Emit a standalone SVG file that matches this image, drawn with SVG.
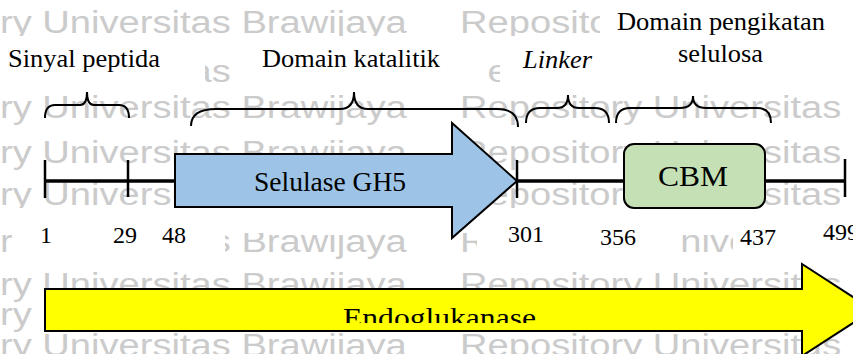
<svg xmlns="http://www.w3.org/2000/svg" width="853" height="354" viewBox="0 0 853 354">
<style>
.wm{font-family:"Liberation Sans",Arial,sans-serif;font-size:31px;fill:#cbcbcb}
.t{font-family:"Liberation Serif","Times New Roman",serif;fill:#000}
.lbl{font-size:25px}
.num{font-size:24px}
.mask{fill:#fff}
.axis{stroke:#000;stroke-width:3.5;fill:none}
.tick{stroke:#000;stroke-width:2.5}
.brace{stroke:#000;stroke-width:2;fill:none}
.shape{stroke:#000;stroke-width:2}
</style>
<defs>
<g id="wmrow"><text class="wm" transform="scale(1.23,1)"><tspan x="0">ry Universitas Brawijaya</tspan><tspan x="374">Repository Universitas Brawijaya</tspan></text></g>
<clipPath id="endoclip"><rect x="45" y="289" width="760" height="34"/></clipPath>
</defs>
<rect width="853" height="354" fill="#fff"/>
<g id="watermark">
<use href="#wmrow" y="33"/>
<use href="#wmrow" y="82"/>
<use href="#wmrow" y="118"/>
<use href="#wmrow" y="163"/>
<use href="#wmrow" y="205"/>
<use href="#wmrow" y="252"/>
<use href="#wmrow" y="295"/>
<use href="#wmrow" y="325"/>
<use href="#wmrow" y="356"/>
</g>
<g id="textboxes">
<rect class="mask" x="0" y="36" width="205" height="54"/>
<rect class="mask" x="232" y="36" width="255" height="54"/>
<rect class="mask" x="500" y="36" width="100" height="54"/>
<rect class="mask" x="600" y="0" width="253" height="90"/>
<rect class="mask" x="0" y="208" width="853" height="25"/>
<rect class="mask" x="12" y="233" width="213" height="30"/>
<rect class="mask" x="477" y="233" width="201" height="30"/>
<rect class="mask" x="733" y="233" width="120" height="30"/>
</g>
<g id="connectors">
<line class="axis" x1="45" y1="181" x2="845" y2="181"/>
<line class="tick" x1="45" y1="160" x2="45" y2="198"/>
<line class="tick" x1="128" y1="160" x2="128" y2="197"/>
<line class="tick" x1="517" y1="160" x2="517" y2="198"/>
<line class="tick" x1="845" y1="159" x2="845" y2="197"/>
<path class="brace" d="M45,118 Q45,105 55,105 L80,105 Q87,105 87,92 Q87,105 94,105 L119,105 Q129,105 129,118"/>
<path class="brace" d="M191,126 Q191,109 216,109 L340,109 Q354,109 354,92 Q354,109 368,109 L497,109 Q518,109 518,127"/>
<path class="brace" d="M526,123 Q526,108 540,108 L557,108 Q568,108 568,95 Q568,108 579,108 L595,108 Q609,108 609,123"/>
<path class="brace" d="M616,123 Q616,108 630,108 L680,108 Q693,108 693,96 Q693,108 706,108 L757,108 Q771,108 771,123"/>
</g>
<g id="labels">
<text class="t lbl" x="8" y="67" textLength="152" lengthAdjust="spacingAndGlyphs">Sinyal peptida</text>
<text class="t lbl" x="262" y="67" textLength="178" lengthAdjust="spacingAndGlyphs">Domain katalitik</text>
<text class="t lbl" x="523" y="68" font-style="italic" textLength="69" lengthAdjust="spacingAndGlyphs">Linker</text>
<text class="t lbl" x="617" y="30" textLength="208" lengthAdjust="spacingAndGlyphs">Domain pengikatan</text>
<text class="t lbl" x="678" y="62" textLength="85" lengthAdjust="spacingAndGlyphs">selulosa</text>
</g>
<g id="numbers">
<text class="t num" x="40" y="243">1</text>
<text class="t num" x="113" y="243">29</text>
<text class="t num" x="162" y="243">48</text>
<text class="t num" x="508" y="242">301</text>
<text class="t num" x="600" y="245">356</text>
<text class="t num" x="740" y="245">437</text>
<text class="t num" x="823" y="240">499</text>
</g>
<g id="node-gh5">
<polygon class="shape" fill="#9DC3E6" points="175,154 452,154 452,123 517,181 452,238 452,207 175,207"/>
<text class="t" x="254" y="191" font-size="27" textLength="152" lengthAdjust="spacingAndGlyphs">Selulase GH5</text>
</g>
<g id="node-cbm">
<rect class="shape" fill="#C5E0B4" x="624" y="144" width="141" height="64" rx="10"/>
<text class="t" x="658" y="186" font-size="30" textLength="70" lengthAdjust="spacingAndGlyphs">CBM</text>
</g>
<g id="node-endo">
<polygon class="shape" fill="#FFFF00" points="45,289 802,289 802,264 873,310 802,356 802,331 45,331"/>
<text class="t" x="343" y="327" font-size="28" textLength="193" lengthAdjust="spacingAndGlyphs" clip-path="url(#endoclip)">Endoglukanase</text>
</g>
</svg>
